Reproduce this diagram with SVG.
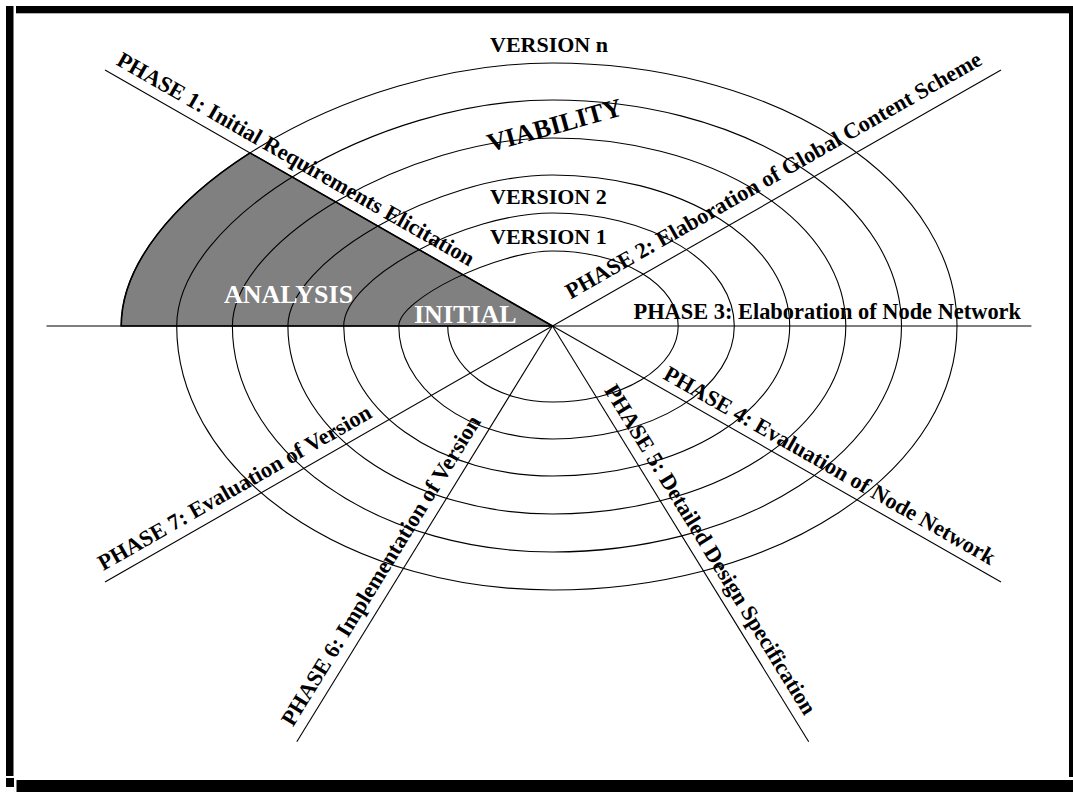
<svg xmlns="http://www.w3.org/2000/svg" width="1073" height="792" viewBox="0 0 1073 792">
<style>
.ln{stroke:#000;stroke-width:1.1;fill:none}
.lbl{font-family:"Liberation Serif","Times New Roman",serif;font-weight:bold;font-size:22.4px;fill:#000}
.ver{font-family:"Liberation Serif","Times New Roman",serif;font-weight:bold;font-size:22px;fill:#000}
.big{font-family:"Liberation Serif","Times New Roman",serif;font-weight:bold;font-size:26px}
</style>
<rect width="1073" height="792" fill="#fff"/>
<g id="frame" fill="#000">
<rect x="16" y="6" width="1057" height="7.3"/>
<rect x="6" y="6" width="7.5" height="770"/>
<rect x="6" y="778" width="8" height="9"/>
<rect x="16.5" y="780" width="1056.5" height="12"/>
<rect x="1069" y="13" width="4" height="764"/>
</g>
<g id="sector">
<path d="M552.5 326 L121.2 326 C121.2 265.3 173.1 202.1 250 152.9 Z" fill="#808080" stroke="#000" stroke-width="1.6"/>
</g>
<g id="spiral">
<path class="ln" d="M447.7 326 A104.8 76 0 0 0 552.5 402 A125.7 76 0 0 0 678.2 326 A125.7 75 0 0 0 552.5 251 C497.2 251 398.8 299 398.8 326 A153.7 113 0 0 0 552.5 439 A181.8 113 0 0 0 734.3 326 A181.8 113 0 0 0 552.5 213 C464.8 213 343.7 278.5 343.7 326 A208.8 150 0 0 0 552.5 476 A237.2 150 0 0 0 789.7 326 A237.2 151 0 0 0 552.5 175 C438.7 175 287.9 261.1 287.9 326 A264.6 188 0 0 0 552.5 514 A293.3 188 0 0 0 845.8 326 A293.3 188 0 0 0 552.5 138 C408.5 138 232.4 241.4 232.4 326 A320.1 226 0 0 0 552.5 552 A349 226 0 0 0 901.5 326 A349 226 0 0 0 552.5 100 C375.9 100 176.7 219.8 176.7 326 A375.8 264 0 0 0 552.5 590 A404.5 264 0 0 0 957 326 A404.5 263 0 0 0 552.5 63 C345.5 63 121.2 199.8 121.2 326"/>
</g>
<g id="connectors" class="ln">
<line x1="552.5" y1="326" x2="105" y2="70"/>
<line x1="552.5" y1="326" x2="1001" y2="70"/>
<line x1="46.5" y1="326" x2="1031.4" y2="326"/>
<line x1="552.5" y1="326" x2="1001" y2="582"/>
<line x1="552.5" y1="326" x2="808.7" y2="741.7"/>
<line x1="552.5" y1="326" x2="296.8" y2="741.7"/>
<line x1="552.5" y1="326" x2="105" y2="582"/>
</g>
<g id="phase1"><text class="lbl" transform="translate(115.2,64.2) rotate(29.77)">PHASE 1: Initial Requirements Elicitation</text></g>
<g id="phase2"><text class="lbl" transform="translate(570.8,299.4) rotate(-29.72)">PHASE 2: Elaboration of Global Content Scheme</text></g>
<g id="phase3"><text class="lbl" x="633.5" y="319.3">PHASE 3: Elaboration of Node Network</text></g>
<g id="phase4"><text class="lbl" transform="translate(662.1,378.2) rotate(29.72)">PHASE 4: Evaluation of Node Network</text></g>
<g id="phase5"><text class="lbl" transform="translate(603.7,390.2) rotate(58.39)">PHASE 5: Detailed Design Specification</text></g>
<g id="phase6"><text class="lbl" transform="translate(292.9,727.5) rotate(-58.37)">PHASE 6: Implementation of Version</text></g>
<g id="phase7"><text class="lbl" transform="translate(103.3,571.1) rotate(-29.74)">PHASE 7: Evaluation of Version</text></g>
<g id="versionN"><text class="ver" x="490" y="51.7">VERSION n</text></g>
<g id="viability"><text class="big" fill="#000" transform="translate(490,152) rotate(-15.5)">VIABILITY</text></g>
<g id="version2"><text class="ver" x="490" y="204">VERSION 2</text></g>
<g id="version1"><text class="ver" x="490" y="244">VERSION 1</text></g>
<g id="analysis"><text class="big" fill="#fff" x="224" y="303">ANALYSIS</text></g>
<g id="initial"><text class="big" fill="#fff" x="414" y="322.5">INITIAL</text></g>
</svg>
